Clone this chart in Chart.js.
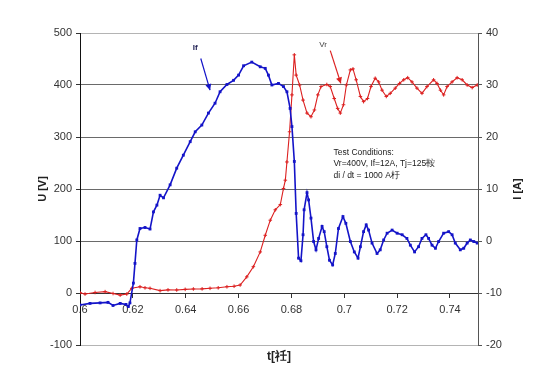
<!DOCTYPE html>
<html><head><meta charset="utf-8">
<script src="https://cdn.jsdelivr.net/npm/chart.js@4"></script>
<style>html,body{margin:0;padding:0;background:#fff}</style>
</head><body>
<canvas id="c" width="550" height="383"></canvas>
<script>
// ---- data ----
const tIf = [0.6000,0.6038,0.6076,0.6106,0.6125,0.6152,0.6174,0.6183,0.6189,0.6202,0.6208,0.6215,0.6227,0.6246,0.6265,0.6278,0.6291,0.6303,0.6316,0.6341,0.6366,0.6391,0.6417,0.6436,0.6461,0.6486,0.6511,0.6530,0.6556,0.6581,0.6600,0.6619,0.6650,0.6682,0.6701,0.6713,0.6726,0.6751,0.6770,0.6783,0.6795,0.6802,0.6811,0.6818,0.6827,0.6836,0.6844,0.6848,0.6859,0.6865,0.6874,0.6884,0.6893,0.6903,0.6916,0.6924,0.6934,0.6944,0.6956,0.6966,0.6978,0.6995,0.7006,0.7023,0.7038,0.7052,0.7061,0.7073,0.7083,0.7092,0.7105,0.7124,0.7136,0.7149,0.7162,0.7181,0.7200,0.7219,0.7237,0.7250,0.7266,0.7281,0.7294,0.7309,0.7319,0.7332,0.7345,0.7357,0.7376,0.7395,0.7408,0.7420,0.7439,0.7452,0.7465,0.7477,0.7490,0.7503];
const If = [-12.3,-12.0,-11.9,-11.8,-12.4,-12.0,-12.2,-12.6,-11.9,-8.1,-4.3,0.2,2.4,2.6,2.3,5.6,6.9,8.8,8.3,10.8,14.0,16.5,19.1,21.0,22.3,24.6,26.5,28.7,30.1,30.9,31.9,33.7,34.4,33.5,33.2,31.9,30.0,30.3,29.7,28.7,25.5,22.0,15.3,5.3,-3.3,-3.8,1.2,6.0,9.3,7.9,4.4,-0.1,-1.7,0.5,2.8,1.8,-1.1,-3.7,-4.6,-2.4,2.4,4.7,3.4,-0.1,-2.1,-3.3,-1.1,1.8,3.1,2.1,-0.4,-2.4,-1.7,0.2,1.5,2.1,1.5,1.2,0.5,-0.8,-2.1,-1.1,0.5,1.2,0.5,-0.8,-1.4,-0.1,1.5,1.8,1.2,-0.4,-1.7,-1.4,-0.4,0.2,-0.1,-0.4];
const tVr = [0.6000,0.6019,0.6057,0.6095,0.6125,0.6152,0.6177,0.6196,0.6227,0.6246,0.6265,0.6303,0.6333,0.6366,0.6398,0.6429,0.6462,0.6492,0.6523,0.6556,0.6583,0.6606,0.6631,0.6656,0.6682,0.6701,0.6720,0.6739,0.6758,0.6770,0.6777,0.6783,0.6793,0.6802,0.6811,0.6818,0.6831,0.6844,0.6859,0.6874,0.6887,0.6900,0.6912,0.6934,0.6947,0.6962,0.6975,0.6985,0.6997,0.7008,0.7023,0.7033,0.7045,0.7061,0.7073,0.7088,0.7101,0.7117,0.7130,0.7143,0.7159,0.7174,0.7193,0.7209,0.7225,0.7240,0.7256,0.7275,0.7294,0.7313,0.7338,0.7351,0.7364,0.7376,0.7389,0.7408,0.7427,0.7446,0.7465,0.7484,0.7503];
const Vr = [0.6,-2,1,2.6,-1,-4,-2,9,12,10,9,4.5,6,5.8,7,7.7,8,9,10,12,13,15.4,31,50.6,79,111,140,160,170,201,217,252,310,381,458,419,400,371,346,339,352,381,397,401,397,374,355,346,362,400,429,431,410,378,368,374,397,413,406,390,378,384,394,403,410,414,406,394,384,397,410,403,390,381,397,406,414,410,400,395,400];
const xTicks = [0.6,0.62,0.64,0.66,0.68,0.7,0.72,0.74];
const xTickLabels = ['0.6','0.62','0.64','0.66','0.68','0.7','0.72','0.74'];
const uTicks = [-100,0,100,200,300,400,500];
const iTicks = [-20,-10,0,10,20,30,40];
const xTitle = 't[祍]';
const uTitle = 'U [V]';
const iTitle = 'I [A]';
const notesText = ['Test Conditions:', 'Vr=400V, If=12A, Tj=125鞍', 'di / dt = 1000 A杅'];

const FONT = '"Liberation Sans", Arial, sans-serif';
const blue = '#1414c8';
const red = '#dc2020';

function drawArrow(ctx, x1, y1, x2, y2, color) {
  ctx.save();
  ctx.strokeStyle = color; ctx.fillStyle = color; ctx.lineWidth = 1.2;
  ctx.beginPath(); ctx.moveTo(x1, y1); ctx.lineTo(x2, y2); ctx.stroke();
  const a = Math.atan2(y2 - y1, x2 - x1), L = 6, W = 3;
  ctx.beginPath();
  ctx.moveTo(x2, y2);
  ctx.lineTo(x2 - L * Math.cos(a) + W * Math.sin(a), y2 - L * Math.sin(a) - W * Math.cos(a));
  ctx.lineTo(x2 - L * Math.cos(a) - W * Math.sin(a), y2 - L * Math.sin(a) + W * Math.cos(a));
  ctx.closePath(); ctx.fill();
  ctx.restore();
}

const notes = {
  id: 'notes',
  afterDatasetsDraw(chart) {
    const { ctx, scales: { x, y, y1 } } = chart;
    ctx.save();
    ctx.font = 'bold 8px ' + FONT; ctx.fillStyle = '#1a1a50';
    ctx.textAlign = 'center'; ctx.textBaseline = 'middle';
    ctx.fillText('If', x.getPixelForValue(0.6436), y1.getPixelForValue(37.1));
    drawArrow(ctx, x.getPixelForValue(0.6457), y1.getPixelForValue(35.1), x.getPixelForValue(0.6492), y1.getPixelForValue(29.0), blue);
    ctx.font = '8px ' + FONT; ctx.fillStyle = '#444';
    ctx.fillText('Vr', x.getPixelForValue(0.6920), y.getPixelForValue(477));
    drawArrow(ctx, x.getPixelForValue(0.6947), y.getPixelForValue(466), x.getPixelForValue(0.6987), y.getPixelForValue(403), red);
    ctx.font = '8.5px ' + FONT; ctx.fillStyle = '#1a1a1a';
    ctx.textAlign = 'left';
    const tx = x.getPixelForValue(0.6959);
    const ys = [270, 248, 225];
    notesText.forEach((s, i) => ctx.fillText(s, tx, y.getPixelForValue(ys[i])));
    ctx.restore();
  },
  afterDraw(chart) {
    const { ctx, chartArea: a } = chart;
    ctx.save();
    ctx.fillStyle = '#222';
    ctx.font = 'bold 11px ' + FONT;
    ctx.textAlign = 'center'; ctx.textBaseline = 'middle';
    const cy = (a.top + a.bottom) / 2;
    [[43, uTitle], [517.5, iTitle]].forEach(([px, s]) => {
      ctx.save(); ctx.translate(px, cy); ctx.rotate(-Math.PI / 2); ctx.fillText(s, 0, 0); ctx.restore();
    });
    ctx.font = 'bold 12px ' + FONT;
    ctx.fillText(xTitle, (a.left + a.right) / 2, 357);
    ctx.restore();
  }
};

new Chart(document.getElementById('c'), {
  type: 'line',
  data: {
    datasets: [
      {
        label: 'If', yAxisID: 'y1',
        data: tIf.map((t, i) => ({ x: t, y: If[i] })),
        borderColor: blue, backgroundColor: blue, borderWidth: 1.6,
        pointStyle: 'rect', pointRadius: 2, pointBorderWidth: 0, tension: 0
      },
      {
        label: 'Vr', yAxisID: 'y',
        data: tVr.map((t, i) => ({ x: t, y: Vr[i] })),
        borderColor: red, backgroundColor: red, borderWidth: 1.1,
        pointStyle: 'cross', pointRadius: 1.8, pointBorderWidth: 1, tension: 0
      }
    ]
  },
  options: {
    responsive: false, animation: false, devicePixelRatio: 1,
    layout: { padding: { top: 33, bottom: 38, left: 0, right: 0 } },
    plugins: { legend: { display: false }, tooltip: { enabled: false } },
    scales: {
      x: {
        type: 'linear', min: 0.6, max: 0.7506, position: { y: 0 },
        afterBuildTicks: s => { s.ticks = xTicks.map(v => ({ value: v })); },
        ticks: { callback: (v, i) => xTickLabels[i], font: { family: FONT, size: 11 }, color: '#333', padding: 6, maxRotation: 0, autoSkip: false },
        grid: { drawOnChartArea: false, drawTicks: true, tickLength: 4, tickColor: '#333' },
        border: { color: '#333', width: 1 }
      },
      y: {
        type: 'linear', position: 'left', min: -100, max: 500,
        afterBuildTicks: s => { s.ticks = uTicks.map(v => ({ value: v })); },
        afterFit: s => { s.width = 80; },
        ticks: { font: { family: FONT, size: 11 }, color: '#333', padding: 4 },
        grid: {
          color: c => (c.tick && (c.tick.value === 500 || c.tick.value === -100)) ? '#b4b4b4' : '#6a6a6a',
          tickLength: 4, tickColor: '#333'
        },
        border: { color: '#111', width: 1 }
      },
      y1: {
        type: 'linear', position: 'right', min: -20, max: 40,
        afterBuildTicks: s => { s.ticks = iTicks.map(v => ({ value: v })); },
        afterFit: s => { s.width = 72; },
        ticks: { font: { family: FONT, size: 11 }, color: '#333', padding: 4 },
        grid: { drawOnChartArea: false, tickLength: 4, tickColor: '#555' },
        border: { color: '#555', width: 1 }
      }
    }
  },
  plugins: [notes]
});
</script>
</body></html>
